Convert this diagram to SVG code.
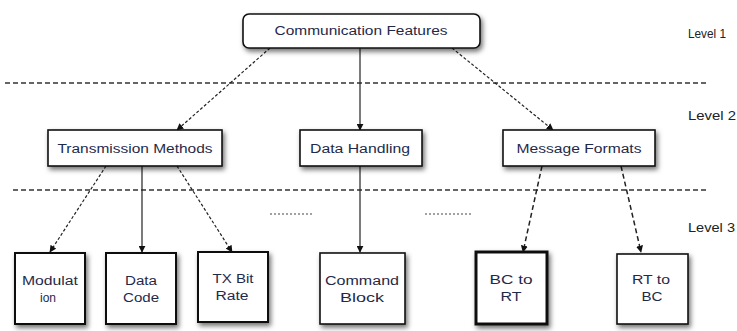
<svg xmlns="http://www.w3.org/2000/svg" width="737" height="331" viewBox="0 0 737 331">
<defs>
<filter id="sh" x="-20%" y="-20%" width="150%" height="160%">
<feDropShadow dx="2" dy="3" stdDeviation="2.5" flood-color="#000" flood-opacity="0.55"/>
</filter>
<marker id="ah" viewBox="0 0 10 10" refX="9" refY="5" markerWidth="7" markerHeight="7" orient="auto" markerUnits="userSpaceOnUse">
<path d="M0,0 L10,5 L0,10 z" fill="#111"/>
</marker>
<style>
.box{fill:#fff;stroke:#111;stroke-width:1.6;filter:url(#sh)}
.t{font-family:"Liberation Sans",Arial,sans-serif;font-size:12px;fill:#1f2a4a;text-anchor:middle}
.lv{font-family:"Liberation Sans",Arial,sans-serif;font-size:13px;fill:#222}
.sep{stroke:#333;stroke-width:1.3;stroke-dasharray:5,3;fill:none}
.c{stroke:#222;stroke-width:1.2;fill:none;marker-end:url(#ah)}
.cd{stroke:#222;stroke-width:1.2;fill:none;stroke-dasharray:3,2;marker-end:url(#ah)}
.cdd{stroke:#222;stroke-width:1.5;fill:none;stroke-dasharray:5,3;marker-end:url(#ah)}
</style>
</defs>
<rect width="737" height="331" fill="#fff"/>
<g id="separators">
<line class="sep" x1="5" y1="83" x2="707" y2="83"/>
<line class="sep" x1="13" y1="190" x2="707" y2="190"/>
<line stroke="#444" stroke-width="1.2" stroke-dasharray="2,2" x1="270" y1="214" x2="312" y2="214"/>
<line stroke="#444" stroke-width="1.2" stroke-dasharray="2,2" x1="425" y1="214" x2="472" y2="214"/>
</g>
<g id="levels">
<text class="lv" x="688" y="38" textLength="38" lengthAdjust="spacingAndGlyphs">Level 1</text>
<text class="lv" x="688" y="120" textLength="48" lengthAdjust="spacingAndGlyphs">Level 2</text>
<text class="lv" x="688" y="232" textLength="47" lengthAdjust="spacingAndGlyphs">Level 3</text>
</g>
<g id="connectors">
<line class="cd" x1="270" y1="48" x2="177" y2="130"/>
<line class="c" x1="360" y1="48" x2="360" y2="130"/>
<line class="cd" x1="452" y1="48" x2="553" y2="130"/>
<line class="cd" x1="106" y1="166" x2="50" y2="252"/>
<line class="c" x1="142" y1="166" x2="142" y2="252"/>
<line class="cd" x1="177" y1="166" x2="232" y2="252"/>
<line class="c" x1="360" y1="166" x2="360" y2="252"/>
<line class="cdd" x1="542" y1="166" x2="523" y2="252"/>
<line class="cdd" x1="621" y1="166" x2="641" y2="252"/>
</g>
<g id="n-comm">
<rect class="box" x="243" y="14" width="237" height="34" rx="6"/>
<text class="t" x="361" y="35" textLength="173" lengthAdjust="spacingAndGlyphs">Communication Features</text>
</g>
<g id="n-trans">
<rect class="box" x="48" y="130" width="174" height="36"/>
<text class="t" x="135" y="153" textLength="155" lengthAdjust="spacingAndGlyphs">Transmission Methods</text>
</g>
<g id="n-data">
<rect class="box" x="300" y="130" width="122" height="36"/>
<text class="t" x="360" y="153" textLength="100" lengthAdjust="spacingAndGlyphs">Data Handling</text>
</g>
<g id="n-msg">
<rect class="box" x="503" y="130" width="152" height="36"/>
<text class="t" x="579" y="153" textLength="125" lengthAdjust="spacingAndGlyphs">Message Formats</text>
</g>
<g id="n-mod">
<rect class="box" x="15" y="253" width="70" height="71" style="stroke-width:2"/>
<text class="t" x="50" y="285" textLength="56" lengthAdjust="spacingAndGlyphs">Modulat</text>
<text class="t" x="48" y="302">ion</text>
</g>
<g id="n-code">
<rect class="box" x="106" y="253" width="70" height="71" style="stroke-width:2"/>
<text class="t" x="141" y="285" textLength="32" lengthAdjust="spacingAndGlyphs">Data</text>
<text class="t" x="141" y="302" textLength="36" lengthAdjust="spacingAndGlyphs">Code</text>
</g>
<g id="n-tx">
<rect class="box" x="198" y="252" width="70" height="70" style="stroke-width:2"/>
<text class="t" x="233" y="283" textLength="41" lengthAdjust="spacingAndGlyphs">TX Bit</text>
<text class="t" x="232" y="300" textLength="33" lengthAdjust="spacingAndGlyphs">Rate</text>
</g>
<g id="n-cmd">
<rect class="box" x="320" y="253" width="85" height="71"/>
<text class="t" x="362" y="285" textLength="74" lengthAdjust="spacingAndGlyphs">Command</text>
<text class="t" x="362" y="302" textLength="44" lengthAdjust="spacingAndGlyphs">Block</text>
</g>
<g id="n-bcrt">
<rect class="box" x="476" y="252" width="71" height="72" style="stroke-width:3"/>
<text class="t" x="511" y="284" textLength="43" lengthAdjust="spacingAndGlyphs">BC to</text>
<text class="t" x="511" y="301" textLength="21" lengthAdjust="spacingAndGlyphs">RT</text>
</g>
<g id="n-rtbc">
<rect class="box" x="617" y="254" width="71" height="70"/>
<text class="t" x="651" y="284" textLength="38" lengthAdjust="spacingAndGlyphs">RT to</text>
<text class="t" x="652" y="301" textLength="21" lengthAdjust="spacingAndGlyphs">BC</text>
</g>
</svg>
